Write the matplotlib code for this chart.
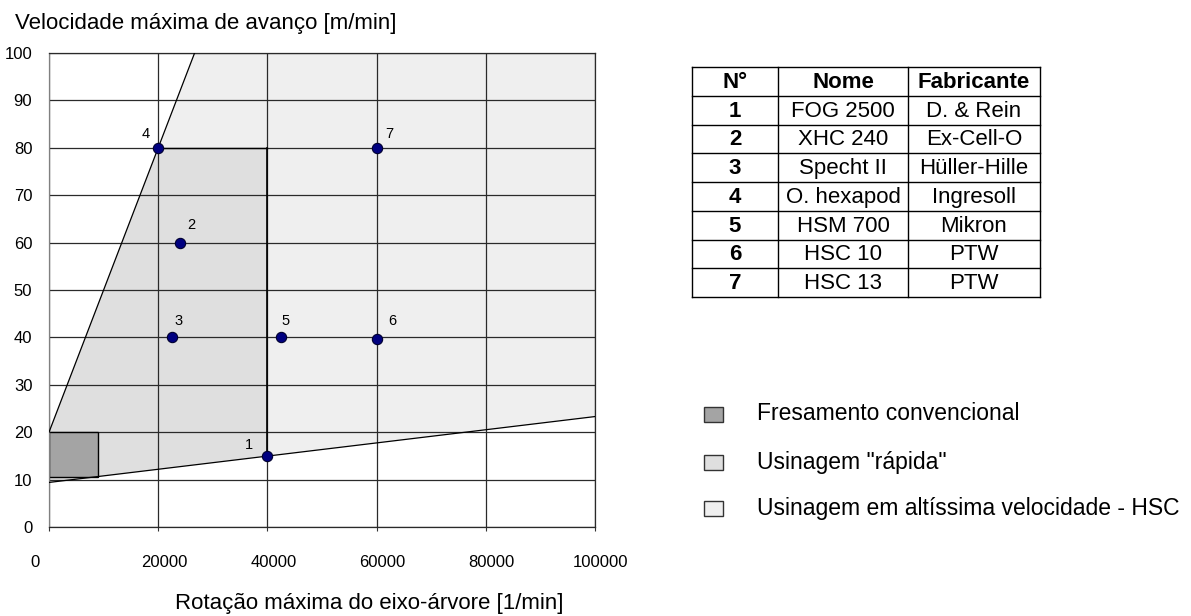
import matplotlib
matplotlib.use("Agg")
import matplotlib.pyplot as plt
from matplotlib.patches import Polygon, Rectangle
from matplotlib.transforms import ScaledTranslation

plt.rcParams["font.family"] = ["Liberation Sans", "DejaVu Sans"]

# ── Machines (rotation 1/min, feed m/min) ────────────────────────────────────
machine_ids = ["1", "2", "3", "4", "5", "6", "7"]
rpm = [40000, 24000, 22500, 20000, 42500, 60000, 60000]
feed = [15, 60, 40, 80, 40, 39.7, 80]
names = ["FOG 2500", "XHC 240", "Specht II", "O. hexapod", "HSM 700", "HSC 10", "HSC 13"]
makers = ["D. & Rein", "Ex-Cell-O", "Hüller-Hille", "Ingresoll", "Mikron", "PTW", "PTW"]

# ── Zones ────────────────────────────────────────────────────────────────────
hsc_x = [0, 26667, 100000, 100000, 0]
hsc_y = [20, 100, 100, 23.3, 9.4]
fast_x = [0, 20000, 40000, 40000, 0]
fast_y = [20, 80, 80, 15, 9.4]
conv_x = [0, 9000]
conv_y = [10.5, 20]

legend_labels = ["Fresamento convencional", 'Usinagem "rápida"',
                 "Usinagem em altíssima velocidade - HSC"]
table_header = ["N°", "Nome", "Fabricante"]

C_HSC, C_FAST, C_CONV = "#EFEFEF", "#DFDFDF", "#A4A4A4"

W, H = 1191, 616
fig = plt.figure(figsize=(W / 100, H / 100), dpi=100)
ax = fig.add_axes([49 / W, 1 - 527 / H, 546 / W, 474 / H])
ax.set_xlim(0, 100000)
ax.set_ylim(0, 100)

ax.add_patch(Polygon(list(zip(hsc_x, hsc_y)), closed=True, facecolor=C_HSC,
                     edgecolor="none", zorder=0))
ax.add_patch(Polygon(list(zip(fast_x, fast_y)), closed=True, facecolor=C_FAST,
                     edgecolor="none", zorder=0.5))
ax.add_patch(Rectangle((conv_x[0], conv_y[0]), conv_x[1] - conv_x[0],
                       conv_y[1] - conv_y[0], facecolor=C_CONV,
                       edgecolor="black", lw=1, zorder=2.5))

ax.set_xticks([0, 20000, 40000, 60000, 80000, 100000])
ax.set_yticks(range(0, 101, 10))
ax.grid(True, color="#2a2a2a", lw=0.9)
ax.set_axisbelow(True)
for s in ax.spines.values():
    s.set_color("#2a2a2a")
    s.set_linewidth(0.9)
ax.spines["left"].set_color("#808080")
ax.tick_params(axis="x", length=3, color="#333333", pad=17, labelsize=12)
ax.tick_params(axis="y", length=0, pad=12, labelsize=12)

# Excel-like shifted x labels
for i, lab in enumerate(ax.get_xticklabels()):
    dx = -14 if i == 0 else 6
    lab.set_transform(lab.get_transform() + ScaledTranslation(dx / 100, 0, fig.dpi_scale_trans))

# zone borders
ax.plot([hsc_x[0], hsc_x[1]], [hsc_y[0], hsc_y[1]], color="black", lw=0.9, zorder=3)
ax.plot([hsc_x[4], hsc_x[3]], [hsc_y[4], hsc_y[3]], color="black", lw=0.9, zorder=3)
ax.plot([fast_x[2], fast_x[3]], [fast_y[2], fast_y[3]], color="black", lw=1.2, zorder=3)
ax.plot([fast_x[1], fast_x[2]], [fast_y[1], fast_y[2]], color="black", lw=1.0, zorder=3)

ax.scatter(rpm, feed, s=55, color="#000080", edgecolor="#000030", lw=0.8, zorder=5,
           clip_on=False)
offsets = [(-13, 8), (8, 13), (5, 12), (-9, 10), (3, 11.5), (11, 13), (9, 10)]
for mid, x, y, off in zip(machine_ids, rpm, feed, offsets):
    ax.annotate(mid, (x, y), xytext=off, textcoords="offset points",
                ha="center", va="center", fontsize=10.5, zorder=6)

# ── Overlay in pixel coordinates ─────────────────────────────────────────────
ov = fig.add_axes([0, 0, 1, 1], facecolor="none")
ov.set_xlim(0, W)
ov.set_ylim(H, 0)
ov.axis("off")

ov.text(15, 24, "Velocidade máxima de avanço [m/min]", fontsize=16, va="center", ha="left")
ov.text(175, 604, "Rotação máxima do eixo-árvore [1/min]", fontsize=16, va="center", ha="left")

# table
tx0, ty0 = 692, 67
col_edges = [0, 86, 216, 348]
row_h = 28.75
n_rows = len(names) + 1
for cx in col_edges:
    ov.plot([tx0 + cx, tx0 + cx], [ty0, ty0 + n_rows * row_h], color="black", lw=1)
for r in range(n_rows + 1):
    ov.plot([tx0, tx0 + col_edges[-1]], [ty0 + r * row_h] * 2, color="black", lw=1)
rows = [table_header] + [[m, n, k] for m, n, k in zip(machine_ids, names, makers)]
for r, row in enumerate(rows):
    yc = ty0 + (r + 0.5) * row_h + 1
    for c, val in enumerate(row):
        xc = tx0 + (col_edges[c] + col_edges[c + 1]) / 2
        bold = r == 0 or c == 0
        ov.text(xc, yc, val, ha="center", va="center", fontsize=16,
                fontweight="bold" if bold else "normal")

# legend
for lab, col, yc in zip(legend_labels, [C_CONV, C_FAST, C_HSC], [414, 462, 508]):
    ov.add_patch(Rectangle((704, yc - 7.5), 19, 15, facecolor=col,
                           edgecolor="#333333", lw=1))
    ov.text(757, yc, lab, ha="left", va="center", fontsize=16.5)

fig.savefig("out.png", dpi=100)
